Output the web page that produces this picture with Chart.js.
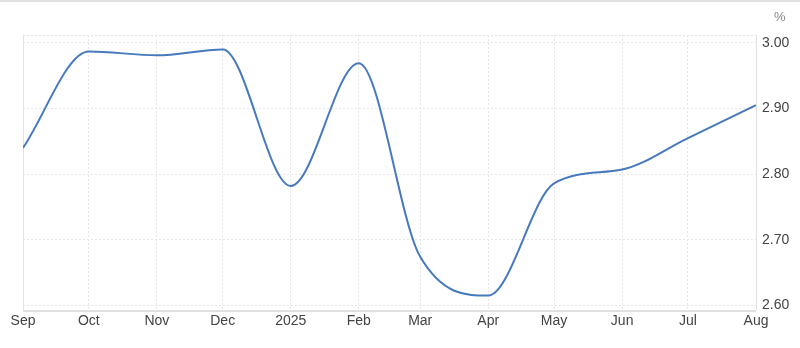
<!DOCTYPE html>
<html>
<head>
<meta charset="utf-8">
<script src="https://cdn.jsdelivr.net/npm/chart.js@4.4.1/dist/chart.umd.min.js"></script>
<style>
html,body{margin:0;padding:0;background:#fff;}
#wrap{position:relative;width:800px;height:348px;box-sizing:border-box;border-top:2px solid #e0e0e0;}
canvas{display:block;}
</style>
</head>
<body>
<div id="wrap"><canvas id="c" width="800" height="346"></canvas></div>
<script>
// Month labels and their day offsets from 1 Sep 2024
const monthLabels = ['Sep','Oct','Nov','Dec','2025','Feb','Mar','Apr','May','Jun','Jul','Aug'];
const monthDays = [0,30,61,91,122,153,181,212,242,273,303,334];
// Series values (%), one per month start
const values = [2.840,2.987,2.981,2.990,2.782,2.969,2.674,2.615,2.786,2.807,2.855,2.905];
// Y tick values
const yTicks = [2.60,2.70,2.80,2.90,3.00];

const points = monthDays.map((d,i)=>({x:d,y:values[i]}));
const FONT = 'Liberation Sans, Arial, sans-serif';

const framePlugin = {
  id:'frame',
  beforeDatasetsDraw(chart){
    const {ctx, chartArea:a} = chart;
    ctx.save();
    ctx.strokeStyle='#e4e4e4';
    ctx.lineWidth=1;
    ctx.setLineDash([2,2]);
    ctx.beginPath();
    ctx.moveTo(a.left, a.top+0.5); ctx.lineTo(a.right, a.top+0.5);
    ctx.stroke();
    ctx.setLineDash([]);
    ctx.strokeStyle='#e2e2e2';
    ctx.beginPath();
    ctx.moveTo(a.left+0.5, a.top); ctx.lineTo(a.left+0.5, a.bottom);
    ctx.moveTo(a.right+0.5, a.top); ctx.lineTo(a.right+0.5, a.bottom);
    ctx.stroke();
    ctx.lineWidth=2;
    ctx.strokeStyle='#e0e0e0';
    ctx.beginPath();
    ctx.moveTo(a.left, a.bottom+1); ctx.lineTo(a.right, a.bottom+1);
    ctx.stroke();
    ctx.restore();
  },
  afterDraw(chart){
    const {ctx} = chart;
    ctx.save();
    ctx.fillStyle='#888';
    ctx.font='13px '+FONT;
    ctx.textAlign='left';
    ctx.textBaseline='middle';
    ctx.fillText('%', 774, 15);
    ctx.restore();
  }
};

new Chart(document.getElementById('c'), {
  type:'line',
  data:{datasets:[{
    data:points,
    borderColor:'#4679bd',
    borderWidth:2,
    pointRadius:0,
    fill:false,
    cubicInterpolationMode:'monotone'
  }]},
  options:{
    responsive:false,
    animation:false,
    layout:{padding:{top:33,left:23,right:0,bottom:0}},
    plugins:{legend:{display:false},tooltip:{enabled:false}},
    scales:{
      x:{
        type:'linear',
        min:0,max:334,
        afterBuildTicks(s){ s.ticks = monthDays.map(v=>({value:v})); },
        afterFit(s){ s.height = 346-308; },
        ticks:{
          autoSkip:false,maxRotation:0,padding:3,
          color:'#444',font:{family:FONT,size:14},
          callback(v){ const i=monthDays.indexOf(v); return i>=0?monthLabels[i]:''; }
        },
        grid:{color:'#e6e6e6',drawTicks:false},
        border:{display:false,dash:[2,2]}
      },
      y:{
        type:'linear',
        position:'right',
        min:2.593,max:3.012,
        afterBuildTicks(s){ s.ticks = yTicks.map(v=>({value:v})); },
        afterFit(s){ s.width = 44; },
        ticks:{
          padding:6,color:'#444',font:{family:FONT,size:14},
          callback(v){ return v.toFixed(2); }
        },
        grid:{color:'#e6e6e6',drawTicks:false},
        border:{display:false,dash:[2,2]}
      }
    }
  },
  plugins:[framePlugin]
});
</script>
</body>
</html>
